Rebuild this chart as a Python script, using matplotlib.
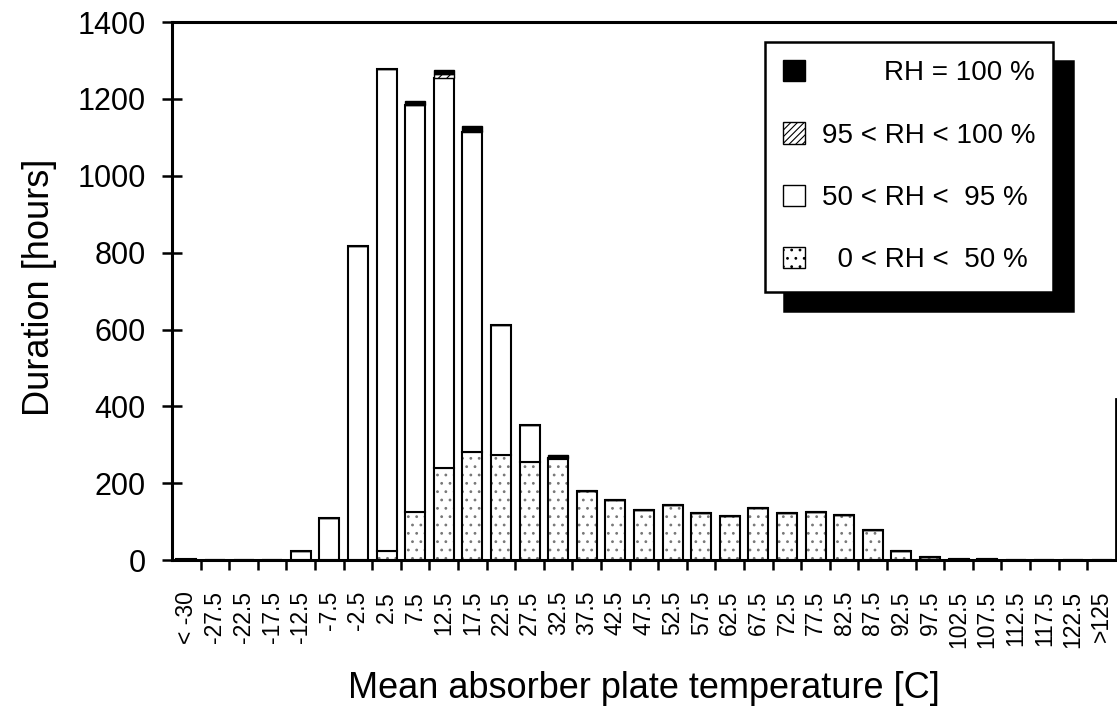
import matplotlib.pyplot as plt
from matplotlib.patches import Patch
import numpy as np

plt.rcParams['font.family'] = ['Liberation Sans', 'DejaVu Sans']
plt.rcParams['hatch.linewidth'] = 0.8

# temperature classes (bin centres) and hours per RH class
labels = ['< -30', '-27.5', '-22.5', '-17.5', '-12.5', '-7.5', '-2.5', '2.5', '7.5',
          '12.5', '17.5', '22.5', '27.5', '32.5', '37.5', '42.5', '47.5', '52.5',
          '57.5', '62.5', '67.5', '72.5', '77.5', '82.5', '87.5', '92.5', '97.5',
          '102.5', '107.5', '112.5', '117.5', '122.5', '>125']

rh_0_50 = [0, 0, 0, 0, 0, 0, 0, 25, 125,
           239, 281, 273, 256, 263, 180, 158, 131, 145,
           122, 115, 135, 124, 126, 118, 80, 24, 8,
           3, 2, 1, 1, 0, 0]
rh_50_95 = [2, 1, 1, 1, 25, 110, 818, 1253, 1058,
            1016, 834, 338, 96, 4, 0, 0, 0, 0,
            0, 0, 0, 0, 0, 0, 0, 0, 0,
            0, 0, 0, 0, 0, 0]
rh_95_100 = [0, 0, 0, 0, 0, 0, 0, 0, 0,
             11, 2, 0, 0, 0, 0, 0, 0, 0,
             0, 0, 0, 0, 0, 0, 0, 0, 0,
             0, 0, 0, 0, 0, 0]
rh_100 = [0, 0, 0, 0, 0, 0, 0, 0, 12,
          10, 12, 0, 0, 8, 0, 0, 0, 0,
          0, 0, 0, 0, 0, 0, 0, 0, 0,
          0, 0, 0, 0, 0, 0]

x = np.arange(len(labels))
a = np.array(rh_0_50)
b = np.array(rh_50_95)
c = np.array(rh_95_100)
d = np.array(rh_100)
w = 0.7

fig = plt.figure(figsize=(11.17, 7.11), dpi=100)
ax = fig.add_axes([0.154, 0.212, 0.845, 0.757])

# stippled lower part: dots first, outline on top
ax.bar(x, a, w, color='white', edgecolor='#777777', hatch='..', linewidth=0)
ax.bar(x, a, w, color='none', edgecolor='black', linewidth=1.5)
ax.bar(x, b, w, bottom=a, color='white', edgecolor='black', linewidth=1.5)
ax.bar(x, c, w, bottom=a + b, color='white', edgecolor='black', hatch='////', linewidth=1.0)
ax.bar(x, d, w, bottom=a + b + c, color='black', edgecolor='black', linewidth=1.0)

ax.set_xlim(-0.5, len(labels) - 0.5)
ax.set_ylim(0, 1400)
ax.set_yticks(np.arange(0, 1401, 200))
ax.tick_params(axis='y', labelsize=22, direction='inout', length=14, width=1.8, pad=12)

ax.set_xticks(x)
ax.set_xticklabels(labels, rotation=90, fontsize=16.5)
ax.tick_params(axis='x', which='major', length=0, pad=22)
ax.set_xticks(x[:-1] + 0.5, minor=True)
ax.tick_params(axis='x', which='minor', direction='out', length=7, width=1.8)

for s in ['left', 'top', 'bottom']:
    ax.spines[s].set_linewidth(2.2)
ax.spines['right'].set_visible(False)
ax.axvline(len(labels) - 0.5, ymin=0, ymax=0.3, color='black', linewidth=2, clip_on=False)

ax.set_ylabel('Duration [hours]', fontsize=26)
ax.yaxis.set_label_coords(-0.122, 0.507)
ax.set_xlabel('Mean absorber plate temperature [C]', fontsize=26)
ax.xaxis.set_label_coords(0.5, -0.206)

handles = [
    Patch(facecolor='black', edgecolor='black'),
    Patch(facecolor='white', edgecolor='black', hatch='/////'),
    Patch(facecolor='white', edgecolor='black'),
    Patch(facecolor='white', edgecolor='black', hatch='..'),
]
names = ['        RH = 100 %', '95 < RH < 100 %', '50 < RH <  95 %', '  0 < RH <  50 %']
leg = ax.legend(handles, names, loc='upper left', bbox_to_anchor=(0.628, 0.963),
                fontsize=20, frameon=True, fancybox=False, edgecolor='black',
                framealpha=1, handlelength=0.8, handleheight=0.8, handletextpad=0.6,
                labelspacing=1.3, borderpad=0.65, borderaxespad=0,
                shadow={'color': 'black', 'alpha': 1, 'ox': 14, 'oy': -14})
leg.get_frame().set_linewidth(1.8)

fig.savefig('out.png', dpi=100)
